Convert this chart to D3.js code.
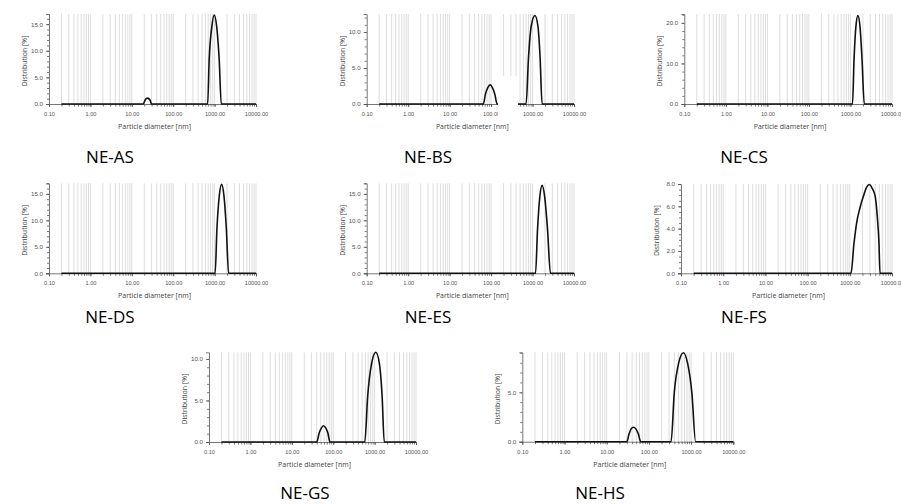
<!DOCTYPE html>
<html>
<head>
<meta charset="utf-8">
<script src="https://cdn.jsdelivr.net/npm/d3@7"></script>
<style>
  body { margin: 0; background: #fff; }
  svg { display: block; font-family: "Open Sans", "Noto Sans", sans-serif; }
</style>
</head>
<body>
<div id="chart"></div>
<script>
// sample names
var sampleNames = ['NE-AS', 'NE-BS', 'NE-CS', 'NE-DS', 'NE-ES', 'NE-FS', 'NE-GS', 'NE-HS'];

// particle diameter [nm] / distribution [%]
var diamAS = [0.2, 19, 21, 24, 27.5, 30, 680, 740, 860, 980, 1120, 1290, 1450, 10000];
var distAS = [0, 0, 0.75, 1.1, 0.75, 0, 0, 8.4, 14.6, 16.7, 14.6, 8.4, 0, 0];

var diamBS = [0.2, 65, 73, 84, 95, 107, 123, 140, 700, 800, 930, 1140, 1350, 1520, 1700, 10000];
var distBS = [0, 0, 1.35, 2.3, 2.65, 2.3, 1.35, 0, 0, 6.5, 10.8, 12.3, 10.8, 6.5, 0, 0];

var diamCS = [0.2, 1120, 1220, 1350, 1510, 1700, 1900, 2150, 10000];
var distCS = [0, 0, 11, 19, 21.8, 19, 11, 0, 0];

var diamDS = [0.2, 1030, 1140, 1300, 1480, 1680, 1920, 2180, 10000];
var distDS = [0, 0, 8.5, 14.7, 16.8, 14.7, 8.5, 0, 0];

var diamES = [0.2, 1180, 1320, 1500, 1700, 1960, 2300, 2700, 10000];
var distES = [0, 0, 8.3, 14.5, 16.6, 14.5, 8.3, 0, 0];

var diamFS = [0.2, 1070, 1250, 1450, 1750, 2100, 2500, 2900, 3400, 4000, 4500, 4900, 5200, 10000];
var distFS = [0, 0, 2.6, 4.5, 5.9, 6.9, 7.7, 7.95, 7.6, 6.9, 5.0, 2.8, 0, 0];

var diamGS = [0.2, 40, 46, 52, 58, 66, 74, 84, 580, 680, 850, 1070, 1300, 1520, 1710, 10000];
var distGS = [0, 0, 1.1, 1.7, 1.96, 1.7, 1.1, 0, 0, 5.5, 9.5, 10.8, 9.5, 5.5, 0, 0];

var diamHS = [0.2, 30, 34, 38, 43, 49, 56, 64, 335, 400, 510, 660, 820, 1040, 1280, 10000];
var distHS = [0, 0, 0.8, 1.3, 1.46, 1.3, 0.8, 0, 0, 5, 8.0, 9.0, 8.0, 5, 0, 0];

// axes
var xDomain = [0.1, 10000];
var xMajorTicks = [0.1, 1, 10, 100, 1000, 10000];
var yMaxes = [16.9, 12.5, 22.2, 17, 17, 8.0, 10.8, 9.05];
var yTickSets = [[0, 5, 10, 15], [0, 5, 10], [0, 10, 20], [0, 5, 10, 15], [0, 5, 10, 15], [0, 2, 4, 6, 8], [0, 5, 10], [0, 5]];
var yMinorSteps = [1, 1, 2, 1, 1, 0.5, 1, 1];

var diams = [diamAS, diamBS, diamCS, diamDS, diamES, diamFS, diamGS, diamHS];
var dists = [distAS, distBS, distCS, distDS, distES, distFS, distGS, distHS];

// plot boxes on the page: left, right, top, bottom(baseline), label centre x, label baseline y
var boxes = [
    [49, 256, 14, 104, 110, 163],
    [366.7, 574, 14, 104, 428, 163],
    [684.3, 892, 14, 104, 744, 163],
    [49, 256, 183.3, 273.3, 110, 323],
    [366.7, 574, 183.3, 273.3, 428, 323],
    [681, 892, 184, 273.3, 744, 323],
    [209, 416, 352.3, 442, 305, 499],
    [522.3, 733.3, 352.3, 441.7, 600, 499]
];

var svg = d3.select('#chart')
    .append('svg')
    .attr('width', 901)
    .attr('height', 504);

// minor positions 0.2..0.9, 2..9 ... up to 10000
var gridVals = [];
[0.1, 1, 10, 100, 1000].forEach(function (dec) {
    for (var k = 2; k <= 10; k++) gridVals.push(+(dec * k).toPrecision(3));
});

sampleNames.forEach(function (name, i) {
    var b = boxes[i];
    var g = svg.append('g');

    var x = d3.scaleLog().domain(xDomain).range([b[0], b[1]]);
    var y = d3.scaleLinear().domain([0, yMaxes[i]]).range([b[3], b[2]]);

    // vertical grid lines
    g.append('g').selectAll('line')
        .data(gridVals)
        .enter()
        .append('line')
        .attr('x1', function (d) { return x(d); })
        .attr('x2', function (d) { return x(d); })
        .attr('y1', b[3])
        .attr('y2', b[2])
        .style('stroke', '#d4d4d4')
        .style('stroke-width', 0.8);

    // x axis
    var gx = g.append('g').attr('transform', 'translate(0,' + b[3] + ')');
    gx.call(d3.axisBottom(x).tickValues(xMajorTicks).tickFormat(d3.format('.2f')).tickSize(3).tickPadding(5));
    var gxm = g.append('g').attr('transform', 'translate(0,' + b[3] + ')');
    gxm.call(d3.axisBottom(x).tickValues(gridVals).tickFormat('').tickSize(2.5));
    gxm.select('.domain').remove();

    // y axis
    var minor = d3.range(0, yMaxes[i] + 1e-9, yMinorSteps[i]);
    var gy = g.append('g').attr('transform', 'translate(' + b[0] + ',0)');
    gy.call(d3.axisLeft(y).tickValues(yTickSets[i]).tickFormat(d3.format('.1f')).tickSize(3).tickPadding(3));
    var gym = g.append('g').attr('transform', 'translate(' + b[0] + ',0)');
    gym.call(d3.axisLeft(y).tickValues(minor).tickFormat('').tickSize(2));
    gym.select('.domain').remove();

    [gx, gxm, gy, gym].forEach(function (a) {
        a.selectAll('.domain').style('stroke', '#555').attr('stroke-width', 0.8);
        a.selectAll('line').style('stroke', '#555').attr('stroke-width', 0.8);
        a.selectAll('text').style('fill', '#555').style('font-size', '5.6px');
    });
    gy.selectAll('text').style('font-size', '6.2px');

    // axis titles
    g.append('text')
        .attr('x', (b[0] + b[1]) / 2 + 2)
        .attr('y', b[3] + 25)
        .attr('text-anchor', 'middle')
        .style('font-size', '7px')
        .style('fill', '#444')
        .text('Particle diameter [nm]');
    g.append('text')
        .attr('transform', 'translate(' + (b[0] - 22) + ',' + ((b[2] + b[3]) / 2 + 2) + ') rotate(-90)')
        .attr('text-anchor', 'middle')
        .style('font-size', '7px')
        .style('fill', '#444')
        .text('Distribution [%]');

    // distribution curve
    var line = d3.line()
        .x(function (d) { return x(d[0]); })
        .y(function (d) { return y(d[1]); })
        .curve(d3.curveMonotoneX);
    g.append('path')
        .attr('d', line(d3.zip(diams[i], dists[i])))
        .style('fill', 'none')
        .style('stroke', '#111')
        .style('stroke-width', 1.6);

    // white patch that covers part of the NE-BS plot in the source image
    if (name === 'NE-BS') {
        g.append('rect')
            .attr('x', 498).attr('y', 76)
            .attr('width', 20).attr('height', 45)
            .style('fill', '#fff');
    }

    // sample label
    svg.append('text')
        .attr('x', b[4])
        .attr('y', b[5])
        .attr('text-anchor', 'middle')
        .style('font-size', '17px')
        .style('fill', '#000')
        .text(name);
});
</script>
</body>
</html>
